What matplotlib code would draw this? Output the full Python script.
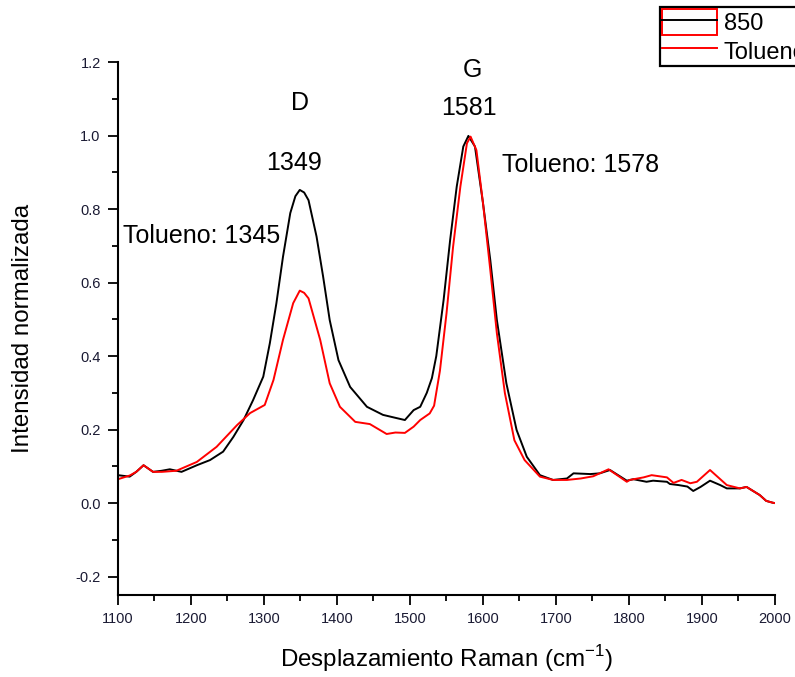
import matplotlib
matplotlib.use("Agg")
import matplotlib.pyplot as plt
from matplotlib.lines import Line2D
from matplotlib.patches import Rectangle

plt.rcParams['font.family'] = ['Liberation Sans', 'DejaVu Sans']

# Raman shift (cm-1) and normalized intensity, sample "850"
x_850 = [1100, 1116, 1125, 1135, 1148, 1160, 1171, 1187, 1208, 1226, 1244, 1258,
         1272, 1285, 1299, 1308, 1317, 1326, 1336, 1343, 1349, 1355, 1361, 1372,
         1381, 1390, 1402, 1418, 1441, 1463, 1480, 1493, 1505, 1514, 1523, 1530,
         1536, 1546, 1555, 1564, 1573, 1580, 1589, 1600, 1610, 1619, 1632,
         1646, 1660, 1678, 1696, 1715, 1724, 1747, 1760, 1774, 1797, 1806, 1824,
         1833, 1852, 1856, 1868, 1880, 1888, 1898, 1911, 1925, 1934, 1952, 1961,
         1979, 1988, 1997, 2000]
y_850 = [0.076, 0.072, 0.085, 0.103, 0.085, 0.088, 0.092, 0.085, 0.103, 0.117, 0.140, 0.180,
         0.226, 0.280, 0.344, 0.435, 0.544, 0.670, 0.789, 0.835, 0.852, 0.845, 0.824, 0.725,
         0.616, 0.498, 0.389, 0.316, 0.262, 0.240, 0.232, 0.226, 0.253, 0.262, 0.300, 0.340,
         0.400, 0.552, 0.716, 0.861, 0.970, 0.999, 0.970, 0.816, 0.661, 0.498, 0.326,
         0.199, 0.126, 0.076, 0.063, 0.067, 0.081, 0.079, 0.081, 0.090, 0.061, 0.065, 0.058,
         0.061, 0.058, 0.052, 0.049, 0.045, 0.033, 0.044, 0.061, 0.049, 0.040, 0.040, 0.044,
         0.022, 0.006, 0.001, 0.000]

# Sample "Tolueno"
x_tol = [1100, 1116, 1125, 1135, 1148, 1160, 1180, 1208, 1235, 1263, 1281, 1301,
         1313, 1326, 1340, 1349, 1355, 1361, 1377, 1390, 1404, 1425, 1445, 1468,
         1480, 1493, 1505, 1514, 1527, 1533, 1541, 1550, 1559, 1569, 1578, 1583,
         1591, 1600, 1610, 1619, 1630, 1643, 1657, 1678, 1696, 1715, 1734, 1751,
         1772, 1797, 1801, 1820, 1831, 1852, 1861, 1872, 1884, 1893, 1911, 1934,
         1952, 1961, 1979, 1988, 1997, 2000]
y_tol = [0.065, 0.075, 0.085, 0.103, 0.085, 0.085, 0.088, 0.112, 0.153, 0.212, 0.245, 0.267,
         0.335, 0.444, 0.544, 0.578, 0.572, 0.557, 0.444, 0.326, 0.262, 0.221, 0.215, 0.188,
         0.192, 0.191, 0.208, 0.226, 0.244, 0.265, 0.360, 0.516, 0.697, 0.861, 0.979, 0.997,
         0.960, 0.816, 0.634, 0.462, 0.299, 0.171, 0.117, 0.072, 0.063, 0.063, 0.067, 0.073,
         0.092, 0.058, 0.063, 0.070, 0.076, 0.070, 0.055, 0.063, 0.054, 0.058, 0.090, 0.049,
         0.040, 0.044, 0.022, 0.006, 0.001, 0.000]

x_ticks = [1100, 1200, 1300, 1400, 1500, 1600, 1700, 1800, 1900, 2000]
y_ticks = [-0.2, 0.0, 0.2, 0.4, 0.6, 0.8, 1.0, 1.2]

fig = plt.figure(figsize=(7.95, 6.77), dpi=100)
ax = fig.add_axes([118/795, 82/677, 657/795, 533/677])

ax.plot(x_850, y_850, color='black', lw=1.4, label='850')
ax.plot(x_tol, y_tol, color='red', lw=1.4, label='Tolueno')

ax.set_xlim(1100, 2000)
ax.set_ylim(-0.25, 1.2)
ax.set_xticks(x_ticks)
ax.set_xticks([v + 50 for v in x_ticks[:-1]], minor=True)
ax.set_yticks(y_ticks)
ax.set_yticks([v + 0.1 for v in y_ticks[:-1]], minor=True)
ax.set_yticklabels([f"{v:.1f}" for v in y_ticks])

for s in ['top', 'right']:
    ax.spines[s].set_visible(False)
for s in ['left', 'bottom']:
    ax.spines[s].set_linewidth(1.5)
ax.tick_params(which='major', direction='out', length=7.5, width=1.3,
               labelsize=10.5, pad=5, labelcolor='#1a1a33')
ax.tick_params(which='minor', direction='out', length=4, width=1.3)

ax.set_xlabel('Desplazamiento Raman (cm$^{\\mathregular{-1}}$)', fontsize=17.4, labelpad=12)
ax.set_ylabel('Intensidad normalizada', fontsize=17.4, labelpad=30)

ann = 18
ax.text(1349, 1.088, 'D', fontsize=ann, ha='center', va='center')
ax.text(1341, 0.925, '1349', fontsize=ann, ha='center', va='center')
ax.text(1107, 0.727, 'Tolueno: 1345', fontsize=ann, ha='left', va='center')
ax.text(1586, 1.178, 'G', fontsize=ann, ha='center', va='center')
ax.text(1581, 1.075, '1581', fontsize=ann, ha='center', va='center')
ax.text(1626, 0.92, 'Tolueno: 1578', fontsize=ann, ha='left', va='center')

h1 = (Rectangle((0, 0), 1, 1, facecolor='none', edgecolor='red', lw=1.4),
      Line2D([], [], color='black', lw=1.4))
h2 = Line2D([], [], color='red', lw=1.4)
leg = fig.legend([h1, h2], ['850', 'Tolueno'], loc='upper left',
                 bbox_to_anchor=(660/795, 1 - 7/677), fontsize=17,
                 fancybox=False, framealpha=1, edgecolor='black',
                 handlelength=2.3, handleheight=1.3, handletextpad=0.3,
                 borderpad=0.1, labelspacing=0.12, borderaxespad=0)
leg.get_frame().set_linewidth(1.6)

fig.savefig('out.png', dpi=100)
